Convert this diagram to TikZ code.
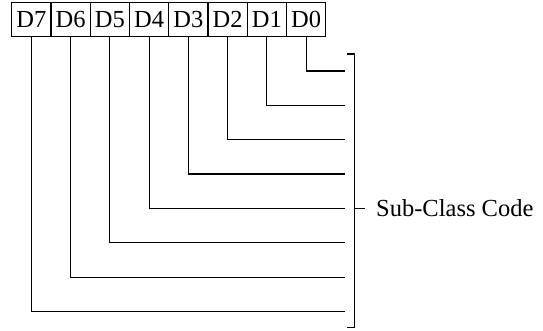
\documentclass[tikz,border=0pt]{standalone}
\usepackage{fontspec}
\usepackage{tikz}
\setmainfont{Liberation Serif}
\tikzstyle{bitBox}=[shape = rectangle, draw, minimum width = 39.25pt, minimum height = 33.5pt, inner sep = 0pt, line width = 0.9pt, font = \fontsize{24.5}{26}\selectfont]
\tikzstyle{codeLabel}=[inner sep = 0pt, font = \fontsize{24.5}{26}\selectfont]

\begin{document}
\begin{tikzpicture}[x = 1pt, y = -1pt]
\tikzstyle{wireStyle}=[line width = 1.1pt]
\tikzstyle{bracketStyle}=[line width = 1.1pt]
\useasboundingbox (0,0) rectangle (543,331);
\node[bitBox] (d7) at (31.3, 19.3) {D7};
\node[bitBox] (d6) at (70.6, 19.3) {D6};
\node[bitBox] (d5) at (109.8, 19.3) {D5};
\node[bitBox] (d4) at (149.1, 19.3) {D4};
\node[bitBox] (d3) at (188.3, 19.3) {D3};
\node[bitBox] (d2) at (227.6, 19.3) {D2};
\node[bitBox] (d1) at (266.8, 19.3) {D1};
\node[bitBox] (d0) at (306.1, 19.3) {D0};
\coordinate (c0) at (345, 71);
\coordinate (c1) at (345, 105.4);
\coordinate (c2) at (345, 139.7);
\coordinate (c3) at (345, 174);
\coordinate (c4) at (345, 208.3);
\coordinate (c5) at (345, 242.7);
\coordinate (c6) at (345, 277.1);
\coordinate (c7) at (345, 311.5);
\draw[wireStyle] (d0.south) |- (c0);
\draw[wireStyle] (d1.south) |- (c1);
\draw[wireStyle] (d2.south) |- (c2);
\draw[wireStyle] (d3.south) |- (c3);
\draw[wireStyle] (d4.south) |- (c4);
\draw[wireStyle] (d5.south) |- (c5);
\draw[wireStyle] (d6.south) |- (c6);
\draw[wireStyle] (d7.south) |- (c7);
\coordinate (bTop) at (354.3, 54);
\coordinate (bBot) at (354.3, 327.7);
\coordinate (bMid) at (354.3, 208.3);
\coordinate (bTip) at (365, 208.3);
\node[codeLabel, anchor = base west] (sub) at (376, 216) {Sub-Class Code};
\draw[bracketStyle] ([xshift = -7.6pt]bTop) -- (bTop) -- (bBot) -- ([xshift = -7.6pt]bBot);
\draw[bracketStyle] (bMid) -- (bTip);
\end{tikzpicture}
\end{document}
